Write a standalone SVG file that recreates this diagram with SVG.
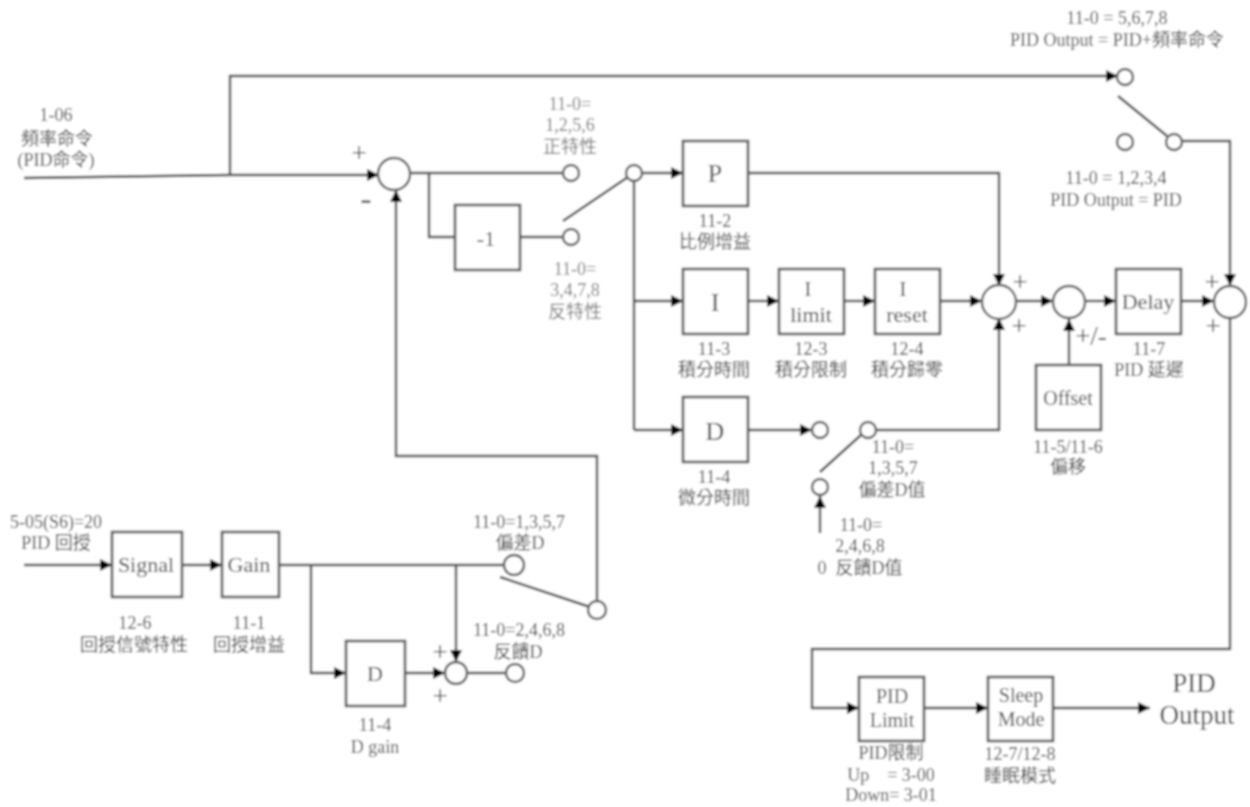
<svg xmlns="http://www.w3.org/2000/svg" width="1250" height="807" viewBox="0 0 1250 807">
<style>
text{font-family:"Liberation Serif","Noto Sans CJK TC",serif;fill:#3c3c3c;text-anchor:middle;font-size:18px}
.b{font-size:26px}
.m{font-size:22px}
.s{font-size:20px}
.big{font-size:27px}
.g{fill:#777}
.pl{font-size:27px}
.box{fill:#fff;stroke:#555;stroke-width:2.6}
circle{fill:#fff;stroke:#5c5c5c;stroke-width:2.4}
path{fill:none;stroke:#444;stroke-width:2.4}
.a{marker-end:url(#ah)}
</style>
<defs>
<marker id="ah" markerUnits="userSpaceOnUse" markerWidth="14" markerHeight="14" refX="12" refY="7" orient="auto"><polygon points="0,1 12,7 0,13" fill="#000"/></marker>
<filter id="bl" x="0" y="0" width="1250" height="807" filterUnits="userSpaceOnUse" primitiveUnits="userSpaceOnUse"><feGaussianBlur stdDeviation="0.8"/></filter>
</defs>
<g filter="url(#bl)">
<rect width="1250" height="807" fill="#fff"/>
<g id="connectors">
<path d="M24 178L230 175"/>
<path class="a" d="M230 175H379"/>
<path class="a" d="M230 175V76H1118"/>
<path d="M410 173H563"/>
<path d="M429 173V237H455"/>
<path d="M520 237H563"/>
<path d="M563 221L628 177"/>
<path class="a" d="M642 173H683"/>
<path d="M634 181V430"/>
<path class="a" d="M634 301H683"/>
<path class="a" d="M634 430H683"/>
<path class="a" d="M748 173H999V286"/>
<path class="a" d="M748 301H779"/>
<path class="a" d="M844 301H875"/>
<path class="a" d="M940 301H982"/>
<path class="a" d="M1015 301H1053"/>
<path class="a" d="M1085 301H1116"/>
<path class="a" d="M1181 301H1214"/>
<path class="a" d="M748 430H812"/>
<path class="a" d="M876 430H999V318"/>
<path d="M820 472L861 435"/>
<path class="a" d="M820 533V496"/>
<path class="a" d="M1069 365V319"/>
<path d="M1118 96L1167 136"/>
<path class="a" d="M1181 141H1230V286"/>
<path class="a" d="M1230 318V649H812V708H859"/>
<path class="a" d="M924 708H988"/>
<path class="a" d="M1053 708H1150"/>
<path class="a" d="M24 565H112"/>
<path class="a" d="M182 565H222"/>
<path d="M279 565H504"/>
<path class="a" d="M311 565V673H346"/>
<path class="a" d="M456 565V662"/>
<path class="a" d="M405 673H445"/>
<path d="M467 673H506"/>
<path d="M500 577L590 607"/>
<path class="a" d="M597 602V456H396V190"/>
</g>
<g id="n-sum1"><circle cx="394" cy="174" r="16"/><text class="pl" x="359" y="162">+</text><text x="366" y="210" style="font-size:34px">-</text></g>
<g id="n-neg"><rect class="box" x="455" y="205" width="65" height="65"/><text class="m" x="486" y="246">-1</text></g>
<g id="n-sw1"><circle cx="571" cy="173" r="8"/><circle cx="571" cy="237" r="8"/><circle cx="634" cy="173" r="8"/>
<text class="g" x="570" y="110">11-0=</text><text class="g" x="570" y="131">1,2,5,6</text><text class="g" x="570" y="153">正特性</text>
<text class="g" x="575" y="275">11-0=</text><text class="g" x="575" y="296">3,4,7,8</text><text class="g" x="575" y="318">反特性</text></g>
<g id="n-p"><rect class="box" x="683" y="141" width="65" height="65"/><text class="b" x="715" y="182">P</text><text x="715" y="227">11-2</text><text x="715" y="248">比例增益</text></g>
<g id="n-i"><rect class="box" x="683" y="269" width="65" height="65"/><text class="b" x="715" y="311">I</text><text x="714" y="355">11-3</text><text x="714" y="376">積分時間</text></g>
<g id="n-ilimit"><rect class="box" x="779" y="269" width="65" height="65"/><text class="m" x="808" y="296">I</text><text class="m" x="811" y="322">limit</text><text x="811" y="355">12-3</text><text x="811" y="376">積分限制</text></g>
<g id="n-ireset"><rect class="box" x="875" y="269" width="65" height="65"/><text class="m" x="903" y="296">I</text><text class="m" x="907" y="322">reset</text><text x="907" y="355">12-4</text><text x="907" y="376">積分歸零</text></g>
<g id="n-d"><rect class="box" x="683" y="397" width="65" height="65"/><text class="b" x="715" y="440">D</text><text x="714" y="483">11-4</text><text x="714" y="504">微分時間</text></g>
<g id="n-sw2"><circle cx="820" cy="430" r="8"/><circle cx="868" cy="430" r="8"/><circle cx="820" cy="487" r="8"/>
<text x="893" y="453">11-0=</text><text x="893" y="474">1,3,5,7</text><text x="892" y="496">偏差D值</text>
<text x="861" y="531">11-0=</text><text x="860" y="552">2,4,6,8</text><text x="860" y="574">0&#160; 反饋D值</text></g>
<g id="n-sum2"><circle cx="999" cy="302" r="17"/><text class="pl" x="1020" y="291">+</text><text class="pl" x="1019" y="335">+</text></g>
<g id="n-sum3"><circle cx="1069" cy="302" r="16"/><text class="pl" x="1091" y="345">+/-</text></g>
<g id="n-offset"><rect class="box" x="1036" y="365" width="65" height="65"/><text class="s" x="1068" y="405">Offset</text><text x="1068" y="453">11-5/11-6</text><text x="1068" y="473">偏移</text></g>
<g id="n-delay"><rect class="box" x="1116" y="269" width="65" height="65"/><text class="m" x="1148" y="309">Delay</text><text x="1149" y="355">11-7</text><text x="1149" y="376">PID 延遲</text></g>
<g id="n-sum4"><circle cx="1230" cy="302" r="16"/><text class="pl" x="1212" y="291">+</text><text class="pl" x="1213" y="335">+</text></g>
<g id="n-sw3"><circle cx="1125" cy="77" r="8"/><circle cx="1125" cy="142" r="8"/><circle cx="1174" cy="142" r="8"/>
<text x="1117" y="24">11-0 = 5,6,7,8</text><text x="1117" y="46">PID Output = PID+頻率命令</text>
<text x="1116" y="184">11-0 = 1,2,3,4</text><text x="1116" y="206">PID Output = PID</text></g>
<g id="n-cmd"><text x="56" y="121">1-06</text><text x="57" y="145">頻率命令</text><text x="56" y="166">(PID命令)</text></g>
<g id="n-fb"><text x="56" y="528">5-05(S6)=20</text><text x="56" y="549">PID 回授</text></g>
<g id="n-signal"><rect class="box" x="112" y="532" width="70" height="65"/><text class="m" x="146" y="572">Signal</text><text x="135" y="629">12-6</text><text x="134" y="651">回授信號特性</text></g>
<g id="n-gain"><rect class="box" x="222" y="532" width="57" height="65"/><text class="m" x="249" y="572">Gain</text><text x="249" y="629">11-1</text><text x="249" y="651">回授增益</text></g>
<g id="n-dgain"><rect class="box" x="346" y="641" width="59" height="65"/><text class="m" x="375" y="681">D</text><text x="375" y="731">11-4</text><text x="375" y="753">D gain</text></g>
<g id="n-sum5"><circle cx="456" cy="673" r="11"/><text class="pl" x="440" y="661">+</text><text class="pl" x="440" y="705">+</text></g>
<g id="n-sw4"><circle cx="514" cy="565" r="10"/><circle cx="515" cy="673" r="9"/><circle cx="597" cy="610" r="9"/>
<text x="519" y="528">11-0=1,3,5,7</text><text x="520" y="549">偏差D</text>
<text x="519" y="636">11-0=2,4,6,8</text><text x="518" y="658">反饋D</text></g>
<g id="n-limit"><rect class="box" x="859" y="677" width="65" height="64"/><text class="s" x="892" y="703">PID</text><text class="s" x="892" y="727">Limit</text><text x="891" y="759">PID限制</text><text x="891" y="781">Up&#160;&#160;&#160; = 3-00</text><text x="891" y="801">Down= 3-01</text></g>
<g id="n-sleep"><rect class="box" x="988" y="677" width="65" height="64"/><text class="s" x="1021" y="702">Sleep</text><text class="s" x="1021" y="726">Mode</text><text x="1020" y="760">12-7/12-8</text><text x="1020" y="782">睡眠模式</text></g>
<g id="n-out"><text class="big" x="1194" y="692">PID</text><text class="big" x="1197" y="724">Output</text></g>
</g>
</svg>
